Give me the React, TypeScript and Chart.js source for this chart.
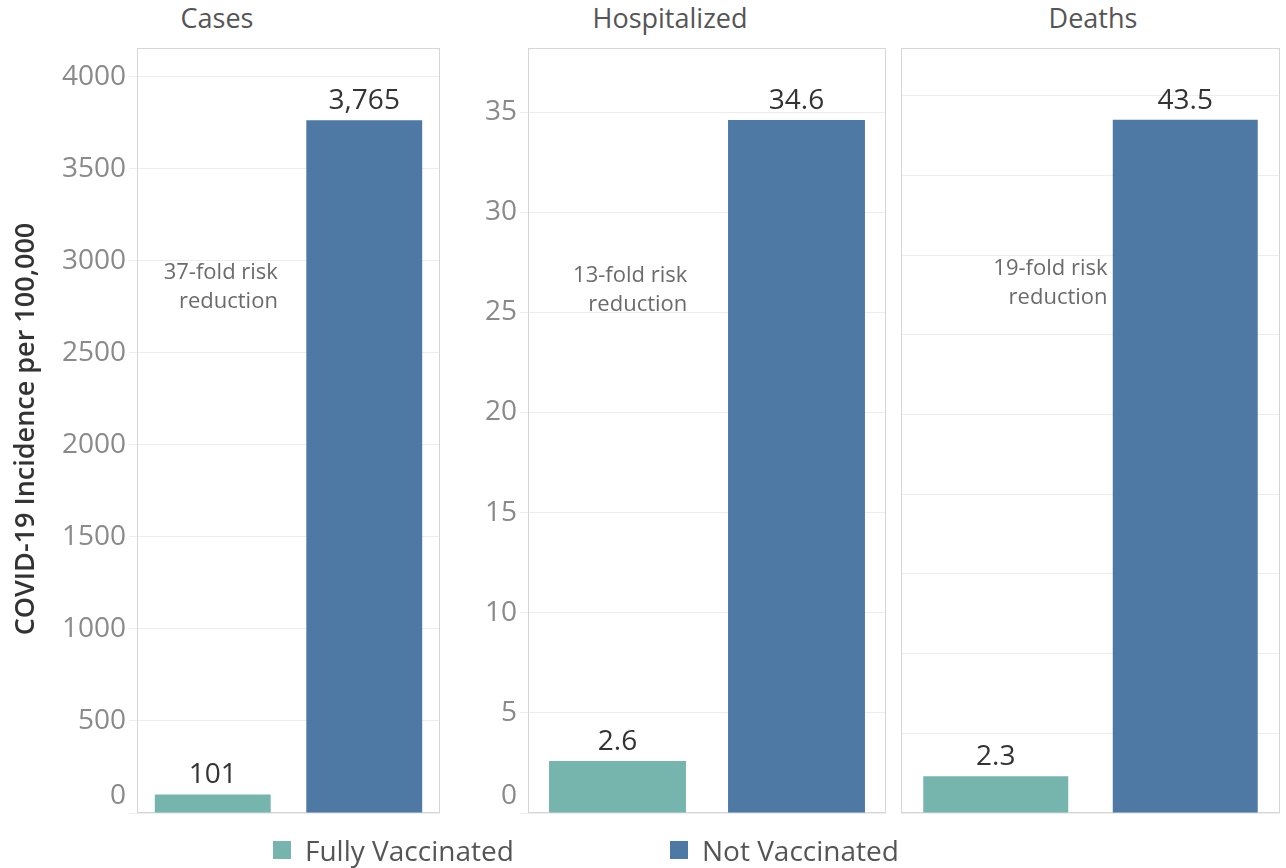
import React, { useEffect, useRef } from "react";
import { Chart, registerables } from "chart.js";

Chart.register(...registerables);

// ---- data ----
const panelTitles = ["Cases", "Hospitalized", "Deaths"];
const groups = ["Fully Vaccinated", "Not Vaccinated"];
const fullyVaccinated = [101, 2.6, 2.3];
const notVaccinated = [3765, 34.6, 43.5];
const foldRiskReduction = [37, 13, 19];
const yTickStep = [500, 5, 5];
const yTickMax = [4000, 35, 45];
const yAxisMax = [4157, 38.2, 48];
const yTicksShown = [true, true, false];

// ---- styles ----
const TEAL = "#76b5ae";
const BLUE = "#4e79a5";
const FONT = "'Open Sans', 'DejaVu Sans', sans-serif";

type Layout = {
  left: number;
  width: number;
  axisWidth: number;
  padRight: number;
  annX: number;
  annY: number;
};

const CANVAS_TOP = 0;
const CANVAS_H = 860;
const PLOT_TOP = 48;
const PLOT_BOTTOM = 813;

const layouts: Layout[] = [
  { left: 30, width: 415, axisWidth: 107, padRight: 5, annX: 0.43, annY: 2935 },
  { left: 455, width: 435, axisWidth: 73, padRight: 4, annX: 0.39, annY: 26.85 },
  { left: 893, width: 393, axisWidth: 8, padRight: 6, annX: 0.59, annY: 34.15 },
];

function formatValue(panel: number, v: number): string {
  return panel === 0 ? v.toLocaleString("en-US") : v.toFixed(1);
}

function Panel({ index }: { index: number }) {
  const ref = useRef<HTMLCanvasElement | null>(null);
  const lay = layouts[index];

  useEffect(() => {
    if (!ref.current) return;
    const frame = {
      id: "frame",
      beforeDatasetsDraw(chart: any) {
        const { ctx, chartArea: a } = chart;
        ctx.save();
        ctx.strokeStyle = "#d6d6d6";
        ctx.lineWidth = 1;
        ctx.strokeRect(Math.round(a.left) + 0.5, Math.round(a.top) + 0.5, Math.round(a.right - a.left) - 1, Math.round(a.bottom - a.top) - 1);
        ctx.restore();
      },
      afterDatasetsDraw(chart: any) {
        const { ctx } = chart;
        const meta = chart.getDatasetMeta(0);
        const data = chart.data.datasets[0].data as number[];
        ctx.save();
        ctx.fillStyle = "#333333";
        ctx.font = `28px ${FONT}`;
        ctx.textAlign = "center";
        ctx.textBaseline = "alphabetic";
        meta.data.forEach((bar: any, i: number) => {
          ctx.fillText(formatValue(index, data[i]), bar.x, bar.y - 11);
        });
        // annotation
        const xs = chart.scales.x;
        const ys = chart.scales.y;
        const step = xs.getPixelForValue(1) - xs.getPixelForValue(0);
        const ax = xs.getPixelForValue(0) + lay.annX * step;
        const ay = ys.getPixelForValue(lay.annY);
        ctx.fillStyle = "#6b6b6b";
        ctx.font = `22px ${FONT}`;
        ctx.textAlign = "right";
        ctx.textBaseline = "middle";
        ctx.fillText(`${foldRiskReduction[index]}-fold risk`, ax, ay);
        ctx.fillText("reduction", ax, ay + 29);
        ctx.restore();
      },
    };

    const chart = new Chart(ref.current, {
      type: "bar",
      data: {
        labels: groups,
        datasets: [
          {
            data: [fullyVaccinated[index], notVaccinated[index]],
            backgroundColor: [TEAL, BLUE],
            borderWidth: 0,
            categoryPercentage: 1,
            barPercentage: 0.765,
          },
        ],
      },
      options: {
        animation: false,
        responsive: false,
        maintainAspectRatio: false,
        layout: {
          padding: {
            top: PLOT_TOP - CANVAS_TOP,
            bottom: CANVAS_TOP + CANVAS_H - PLOT_BOTTOM,
            left: 0,
            right: lay.padRight,
          },
        },
        plugins: {
          legend: { display: false },
          tooltip: { enabled: false },
          title: { display: false },
        },
        scales: {
          x: { display: false },
          y: {
            min: 0,
            max: yAxisMax[index],
            bounds: "data",
            afterBuildTicks: (s: any) => {
              const t: { value: number }[] = [];
              for (let v = 0; v <= yTickMax[index] + 1e-9; v += yTickStep[index]) t.push({ value: v });
              s.ticks = t;
            },
            afterFit: (s: any) => {
              s.width = lay.axisWidth;
            },
            border: { display: false },
            grid: {
              color: "#ededed",
              lineWidth: 1,
              drawTicks: yTicksShown[index],
              tickLength: 8,
            },
            ticks: {
              display: yTicksShown[index],
              padding: 3,
              color: "#8a8a8a",
              font: { family: FONT, size: 28 },
              callback: (v: any) => (Number(v) === 0 ? ["0", ""] : String(v)),
            },
          },
        },
      } as any,
      plugins: [frame],
    });
    return () => chart.destroy();
  }, [index]);

  return (
    <canvas
      ref={ref}
      width={lay.width}
      height={CANVAS_H}
      style={{ position: "absolute", left: lay.left, top: CANVAS_TOP, width: lay.width, height: CANVAS_H }}
    />
  );
}

const titleCenters = [217, 670, 1093];

export default function App() {
  return (
    <div
      style={{
        position: "absolute",
        left: 0,
        top: 0,
        width: 1286,
        height: 868,
        background: "#ffffff",
        fontFamily: FONT,
        overflow: "hidden",
      }}
    >
      {panelTitles.map((t, i) => (
        <div
          key={t}
          style={{
            position: "absolute",
            left: titleCenters[i] - 150,
            width: 300,
            top: 2,
            textAlign: "center",
            fontSize: 27,
            color: "#555555",
            lineHeight: "32px",
          }}
        >
          {t}
        </div>
      ))}
      {[0, 1, 2].map((i) => (
        <Panel key={i} index={i} />
      ))}
      <div
        style={{
          position: "absolute",
          left: 24 - 250,
          top: 429 - 18,
          width: 500,
          height: 36,
          lineHeight: "36px",
          textAlign: "center",
          transform: "rotate(-90deg)",
          fontSize: 27,
          fontWeight: 600,
          color: "#333333",
        }}
      >
        COVID-19 Incidence per 100,000
      </div>
      {groups.map((g, i) => (
        <div
          key={g}
          style={{
            position: "absolute",
            left: i === 0 ? 273 : 670,
            top: 833,
            height: 34,
            display: "flex",
            alignItems: "center",
            whiteSpace: "nowrap",
          }}
        >
          <span style={{ width: 18, height: 18, background: i === 0 ? TEAL : BLUE, display: "inline-block", marginRight: 14 }} />
          <span style={{ fontSize: 28, color: "#555555" }}>{g}</span>
        </div>
      ))}
    </div>
  );
}
